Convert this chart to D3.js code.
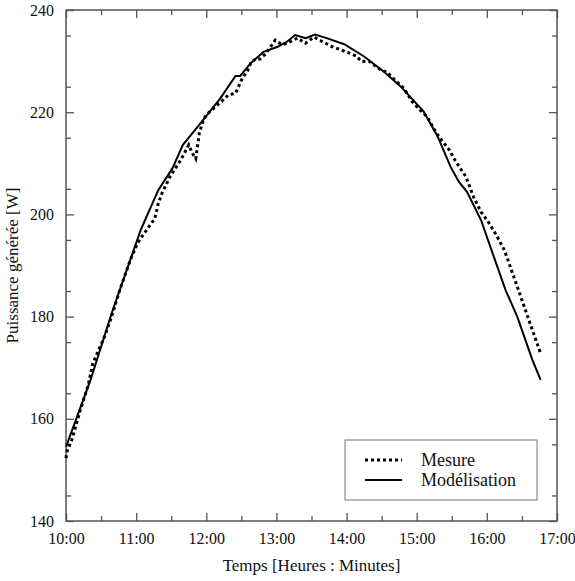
<!DOCTYPE html>
<html>
<head>
<meta charset="utf-8">
<script src="https://cdn.jsdelivr.net/npm/d3@7"></script>
<style>
  body { margin: 0; background: #fff; }
</style>
</head>
<body>
<div id="chart"></div>
<script>
// Mesure (dotted)
var mesureTimes = ["10:00","10:01","10:05","10:12","10:19","10:23","10:33","10:39","10:46","10:55",
    "11:01","11:06","11:16","11:19","11:22","11:29","11:38","11:45","11:48","11:51","11:53","11:54","11:58",
    "12:03","12:08","12:13","12:19","12:25","12:28","12:31","12:35","12:38","12:42","12:46","12:51","12:59",
    "13:05","13:11","13:18","13:25","13:32","13:42","13:48","13:55","14:02","14:08","14:13","14:19","14:29",
    "14:35","14:38","14:49","14:56","15:03","15:09","15:16","15:21","15:28","15:33","15:42","15:49","15:55",
    "16:01","16:08","16:15","16:22","16:29","16:36","16:46"];
var mesureValues = [152.3,153.7,155.9,161.5,166.6,170.9,176.1,180,185.2,191.1,
    194.3,196,199.2,202.2,204.1,207.4,210.6,213.6,212,210.9,214.2,215.9,218.8,
    220.1,221.1,222.1,223.4,223.7,225.2,226.8,227.9,229.6,230.4,230.4,231.5,234.1,
    233.2,233.7,234.5,233.5,234.7,233.5,232.8,232.2,231.6,231,229.9,230,228.3,
    227.8,227,224.7,222.1,220.4,219.1,216.2,214.6,212.6,210.5,207.4,203.2,200.5,
    198.6,196,193,188.5,183.9,179.3,172.8];

// Modélisation (solid)
var modelTimes = ["10:00","10:21","10:39","11:04","11:19","11:31","11:40","11:55","12:12","12:25","12:29",
    "12:38","12:49","13:01","13:09","13:16","13:25","13:33","13:43","13:58","14:15","14:32","14:46","15:06",
    "15:18","15:29","15:36","15:43","15:55","16:06","16:16","16:26","16:39","16:46"];
var modelValues = [154.5,167.6,180.6,197,204.8,209,213.6,217.8,222.7,227.1,227.1,
    229.6,231.8,232.8,233.8,235.1,234.5,235.2,234.5,233.3,230.9,227.9,225.1,220.1,
    215.2,209.3,206.4,204.4,198.9,191.7,185.2,180,171.5,167.6];

var xTicks = ["10:00","11:00","12:00","13:00","14:00","15:00","16:00","17:00"];
var yTicks = [140,160,180,200,220,240];
var legendLabels = ["Mesure","Modélisation"];

var serif = "'Liberation Serif', 'DejaVu Serif', serif";

function toMin(s) {
    var p = s.split(":");
    return +p[0] * 60 + +p[1];
}
function fmt(m) {
    return Math.floor(m / 60) + ":" + d3.format("02")(m % 60);
}

var margin = { top: 10, right: 18, bottom: 60, left: 66 },
    width = 575 - margin.left - margin.right,
    height = 581 - margin.top - margin.bottom;

var svg = d3.select("#chart")
    .append("svg")
    .attr("width", width + margin.left + margin.right)
    .attr("height", height + margin.top + margin.bottom)
    .style("font-family", serif)
    .append("g")
    .attr("transform", "translate(" + margin.left + "," + margin.top + ")");

var x = d3.scaleLinear()
    .domain([toMin(xTicks[0]), toMin(xTicks[xTicks.length - 1])])
    .range([0, width]);
var y = d3.scaleLinear()
    .domain([yTicks[0], yTicks[yTicks.length - 1]])
    .range([height, 0]);

var xMajor = xTicks.map(toMin);
var xMinor = d3.range(xMajor[0] + 30, xMajor[xMajor.length - 1], 60);
var yMinor = d3.range(145, 240, 10);

// axes, ticks pointing inward on all four sides
function styleAxis(g) {
    g.attr("font-family", null);
    g.select(".domain").remove();
    g.selectAll("line").attr("stroke", "#555").attr("stroke-width", 1.3);
    g.selectAll("text")
        .style("font-family", serif)
        .style("font-size", "16px")
        .attr("fill", "#111");
}

svg.append("g")
    .attr("transform", "translate(0," + height + ")")
    .call(d3.axisBottom(x).tickValues(xMajor).tickSizeInner(-8).tickSizeOuter(0).tickPadding(12).tickFormat(fmt))
    .call(styleAxis);
svg.append("g")
    .attr("transform", "translate(0," + height + ")")
    .call(d3.axisBottom(x).tickValues(xMinor).tickSizeInner(-5).tickSizeOuter(0).tickFormat(""))
    .call(styleAxis);
svg.append("g")
    .call(d3.axisTop(x).tickValues(xMajor).tickSizeInner(-8).tickSizeOuter(0).tickFormat(""))
    .call(styleAxis);
svg.append("g")
    .call(d3.axisTop(x).tickValues(xMinor).tickSizeInner(-5).tickSizeOuter(0).tickFormat(""))
    .call(styleAxis);

svg.append("g")
    .call(d3.axisLeft(y).tickValues(yTicks).tickSizeInner(-8).tickSizeOuter(0).tickPadding(12))
    .call(styleAxis);
svg.append("g")
    .call(d3.axisLeft(y).tickValues(yMinor).tickSizeInner(-5).tickSizeOuter(0).tickFormat(""))
    .call(styleAxis);
svg.append("g")
    .attr("transform", "translate(" + width + ",0)")
    .call(d3.axisRight(y).tickValues(yTicks).tickSizeInner(-8).tickSizeOuter(0).tickFormat(""))
    .call(styleAxis);
svg.append("g")
    .attr("transform", "translate(" + width + ",0)")
    .call(d3.axisRight(y).tickValues(yMinor).tickSizeInner(-5).tickSizeOuter(0).tickFormat(""))
    .call(styleAxis);

// frame
svg.append("rect")
    .attr("width", width)
    .attr("height", height)
    .attr("fill", "none")
    .attr("stroke", "#555")
    .attr("stroke-width", 1.5);

// lines
var line = d3.line()
    .x(function (d) { return x(toMin(d[0])); })
    .y(function (d) { return y(d[1]); });

svg.append("path")
    .datum(modelTimes.map(function (t, i) { return [t, modelValues[i]]; }))
    .attr("d", line)
    .attr("fill", "none")
    .attr("stroke", "#000")
    .attr("stroke-width", 2);

svg.append("path")
    .datum(mesureTimes.map(function (t, i) { return [t, mesureValues[i]]; }))
    .attr("d", line)
    .attr("fill", "none")
    .attr("stroke", "#000")
    .attr("stroke-width", 3)
    .attr("stroke-dasharray", "3,3");

// axis titles
svg.append("text")
    .attr("x", width / 2)
    .attr("y", height + 50)
    .attr("text-anchor", "middle")
    .style("font-family", serif)
    .style("font-size", "17px")
    .attr("fill", "#111")
    .text("Temps [Heures : Minutes]");

svg.append("text")
    .attr("transform", "translate(" + (-48) + "," + (height / 2) + ") rotate(-90)")
    .attr("text-anchor", "middle")
    .style("font-family", serif)
    .style("font-size", "17px")
    .attr("fill", "#111")
    .text("Puissance générée [W]");

// legend
var lg = svg.append("g")
    .attr("transform", "translate(" + (width - 212) + "," + (height - 81) + ")");
lg.append("rect")
    .attr("width", 192)
    .attr("height", 60)
    .attr("fill", "#fff")
    .attr("stroke", "#777")
    .attr("stroke-width", 1);
lg.selectAll(".lgline")
    .data(legendLabels)
    .enter()
    .append("line")
    .attr("x1", 20)
    .attr("x2", 57)
    .attr("y1", function (d, i) { return 20 + i * 20; })
    .attr("y2", function (d, i) { return 20 + i * 20; })
    .attr("stroke", "#000")
    .attr("stroke-width", function (d, i) { return i == 0 ? 3 : 2; })
    .attr("stroke-dasharray", function (d, i) { return i == 0 ? "3,3" : null; });
lg.selectAll(".lgtext")
    .data(legendLabels)
    .enter()
    .append("text")
    .attr("x", 76)
    .attr("y", function (d, i) { return 20 + i * 20; })
    .attr("dy", ".33em")
    .style("font-family", serif)
    .style("font-size", "18px")
    .attr("fill", "#111")
    .text(function (d) { return d; });
</script>
</body>
</html>
